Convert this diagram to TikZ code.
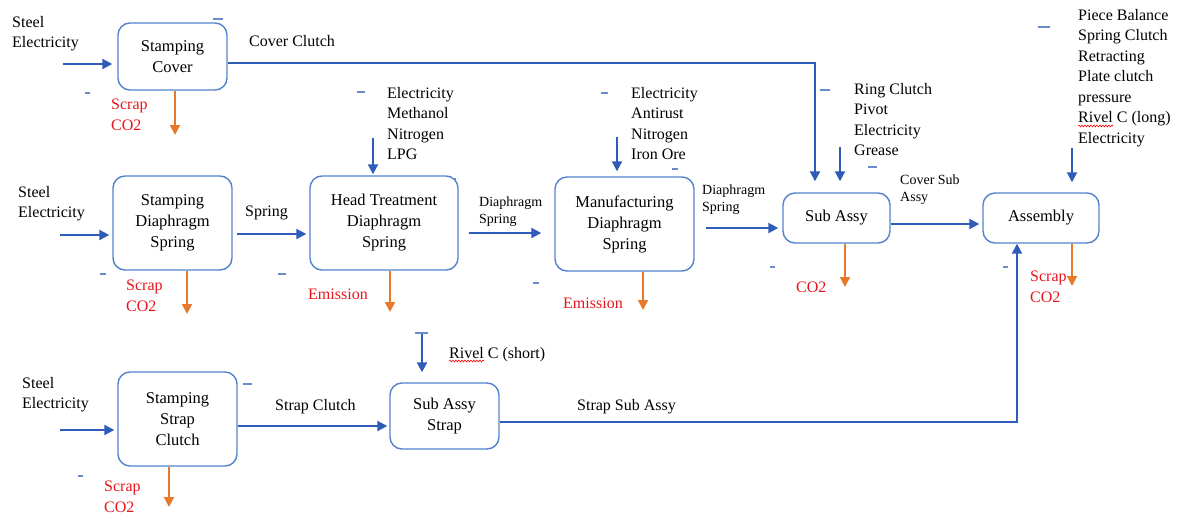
\documentclass[tikz,border=0pt]{standalone}
\usepackage{fontspec}
\setmainfont{Liberation Serif}
\usetikzlibrary{arrows.meta,decorations.pathmorphing}
\definecolor{lineblue}{HTML}{2F5CB8}
\definecolor{boxblue}{HTML}{5282CC}
\definecolor{outorange}{HTML}{E8792A}
\definecolor{txtred}{HTML}{E8141C}
\definecolor{dashblue}{HTML}{6A8CC8}
\begin{document}
\begin{tikzpicture}[x=1pt,y=-1pt,
  proc/.style={draw=boxblue, line width=1.4pt, rounded corners=12pt, inner sep=0pt, align=center, font=\fontsize{16.5}{21}\selectfont},
  lbl/.style={anchor=north west, inner sep=0pt, align=left, font=\fontsize{16}{20.5}\selectfont},
  slbl/.style={lbl, font=\fontsize{14}{16.5}\selectfont},
  rlbl/.style={lbl, text=txtred},
  flow/.style={draw=lineblue, line width=2pt, -{Triangle[length=10pt,width=10pt]}},
  outflow/.style={draw=outorange, line width=2pt, -{Triangle[length=10pt,width=10pt]}},
  markdash/.style={draw=dashblue, line width=1.5pt},
  squig/.style={draw=red, line width=0.6pt, decorate, decoration={snake, amplitude=0.9pt, segment length=3pt}}
]
\useasboundingbox (0,0) rectangle (1183,517);

% process boxes
\node[proc, minimum width=109pt, minimum height=67pt] (sc) at (172.5,56.5) {Stamping\\Cover};
\node[proc, minimum width=119pt, minimum height=94pt] (sd) at (172.5,223) {Stamping\\Diaphragm\\Spring};
\node[proc, minimum width=148pt, minimum height=94pt] (ht) at (384,223) {Head Treatment\\Diaphragm\\Spring};
\node[proc, minimum width=139pt, minimum height=94pt] (mf) at (624.5,224) {Manufacturing\\Diaphragm\\Spring};
\node[proc, minimum width=107pt, minimum height=50pt] (sa) at (836.5,218) {Sub Assy};
\node[proc, minimum width=116pt, minimum height=50pt] (as) at (1041,218) {Assembly};
\node[proc, minimum width=119pt, minimum height=94pt] (ss) at (177.5,419) {Stamping\\Strap\\Clutch};
\node[proc, minimum width=109pt, minimum height=66pt] (sas) at (444.5,416) {Sub Assy\\Strap};

% labels
\node[lbl] (t1) at (12,16) {Steel\\Electricity};
\node[lbl] (t2) at (249,35) {Cover Clutch};
\node[rlbl] (t3) at (111,99) {Scrap\\CO2};
\node[lbl] (t4) at (18,186) {Steel\\Electricity};
\node[lbl] (t5) at (245,206) {Spring};
\node[rlbl] (t6) at (126,280) {Scrap\\CO2};
\node[lbl] (t7) at (387,87) {Electricity\\Methanol\\Nitrogen\\LPG};
\node[rlbl] (t8) at (308,289) {Emission};
\node[slbl] (t9) at (479,197) {Diaphragm\\Spring};
\node[lbl] (t10) at (631,87) {Electricity\\Antirust\\Nitrogen\\Iron Ore};
\node[rlbl] (t11) at (563,298) {Emission};
\node[slbl] (t12) at (702,185) {Diaphragm\\Spring};
\node[lbl] (t13) at (854,83) {Ring Clutch\\Pivot\\Electricity\\Grease};
\node[slbl] (t14) at (900,175) {Cover Sub\\Assy};
\node[rlbl] (t15) at (796,282) {CO2};
\node[lbl] (t16) at (1078,9) {Piece Balance\\Spring Clutch\\Retracting\\Plate clutch\\pressure\\Rivel C (long)\\Electricity};
\node[rlbl] (t17) at (1030,271) {Scrap\\CO2};
\node[lbl] (t18) at (22,377) {Steel\\Electricity};
\node[lbl] (t19) at (275,399) {Strap Clutch};
\node[lbl] (t20) at (449,347) {Rivel C (short)};
\node[lbl] (t21) at (577,399) {Strap Sub Assy};
\node[rlbl] (t22) at (104,481) {Scrap\\CO2};

% row 1
\coordinate (i1) at (63,64);
\draw[flow, shorten >=5pt] (i1) -- (i1 -| sc.west);
\coordinate (cc) at (815,63);
\draw[flow, shorten >=11pt] (sc.east |- cc) -- (cc) -- (cc |- sa.north);
\coordinate (o1) at (175,135);
\draw[outflow] (o1 |- sc.south) -- (o1);

% row 2
\coordinate (i2) at (60,235);
\draw[flow, shorten >=3pt] (i2) -- (i2 -| sd.west);
\coordinate (sp) at (0,234);
\draw[flow, shorten <=4pt, shorten >=3pt] (sd.east |- sp) -- (ht.west |- sp);
\coordinate (hi) at (373,138);
\draw[flow, shorten >=1pt] (hi) -- (hi |- ht.north);
\coordinate (o2) at (187,314);
\draw[outflow] (o2 |- sd.south) -- (o2);
\coordinate (o3) at (390,312);
\draw[outflow] (o3 |- ht.south) -- (o3);
\coordinate (dm) at (0,233);
\draw[flow, shorten <=10pt, shorten >=13pt] (ht.east |- dm) -- (mf.west |- dm);
\coordinate (mi) at (617,137);
\draw[flow, shorten >=5pt] (mi) -- (mi |- mf.north);
\coordinate (o4) at (643,310);
\draw[outflow] (o4 |- mf.south) -- (o4);
\coordinate (ds) at (0,228);
\draw[flow, shorten <=11pt, shorten >=4pt] (mf.east |- ds) -- (sa.west |- ds);
\coordinate (si) at (840,147);
\draw[flow, shorten >=11pt] (si) -- (si |- sa.north);
\coordinate (o5) at (845,287);
\draw[outflow] (o5 |- sa.south) -- (o5);
\coordinate (cs) at (0,224);
\draw[flow, shorten >=3pt] (sa.east |- cs) -- (as.west |- cs);
\coordinate (ai) at (1072,148);
\draw[flow, shorten >=10pt] (ai) -- (ai |- as.north);
\coordinate (o6) at (1072,286);
\draw[outflow] (o6 |- as.south) -- (o6);

% row 3
\coordinate (i3) at (60,430);
\draw[flow, shorten >=3pt] (i3) -- (i3 -| ss.west);
\coordinate (sc3) at (0,426);
\draw[flow, shorten >=2pt] (ss.east |- sc3) -- (sas.west |- sc3);
\coordinate (ri) at (422,333);
\draw[flow, shorten >=10pt] (ri) -- (ri |- sas.north);
\coordinate (sj) at (1017,422);
\draw[flow] (sas.east |- sj) -- (sj) -- (sj |- as.south);
\coordinate (o7) at (169,507);
\draw[outflow] (o7 |- ss.south) -- (o7);

% spell-check underlines
\draw[squig] (1078,126) -- (1113,126);
\draw[squig] (449,361) -- (484,361);

% stray marks
\draw[markdash] (213,19) -- (223,19);
\draw[markdash] (85,93) -- (90,93);
\draw[markdash] (357,92) -- (365,92);
\draw[markdash] (601,93) -- (608,93);
\draw[markdash] (820,90) -- (830,90);
\draw[markdash] (1038,27) -- (1050,27);
\draw[markdash] (868,167) -- (877,167);
\draw[markdash] (672,169) -- (678,169);
\draw[markdash] (453,179) -- (456,179);
\draw[markdash] (100,274) -- (106,274);
\draw[markdash] (278,274) -- (286,274);
\draw[markdash] (533,283) -- (539,283);
\draw[markdash] (770,267) -- (775,267);
\draw[markdash] (1003,267) -- (1008,267);
\draw[markdash] (78,476) -- (83,476);
\draw[markdash] (243,384) -- (252,384);
\draw[markdash] (415,333) -- (428,333);
\end{tikzpicture}
\end{document}
